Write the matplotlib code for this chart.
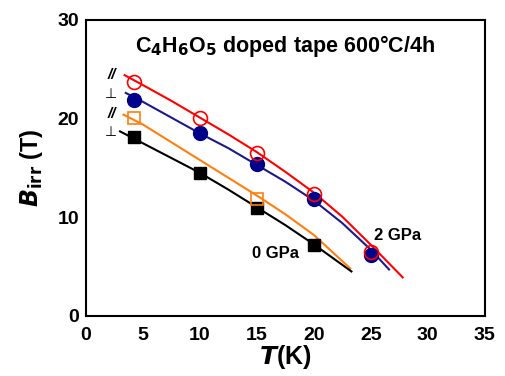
import numpy as np
import matplotlib.pyplot as plt

plt.rcParams['font.family'] = ['Liberation Sans', 'DejaVu Sans']
plt.rcParams['font.weight'] = 'bold'

# measured points (T in K, Birr in T)
T_2gpa_par = [4.2, 10, 15, 20, 25]
B_2gpa_par = [23.7, 20.1, 16.5, 12.4, 6.5]
T_2gpa_perp = [4.2, 10, 15, 20, 25]
B_2gpa_perp = [21.9, 18.5, 15.4, 11.8, 6.2]
T_0gpa_par = [4.2, 15]
B_0gpa_par = [20.1, 11.8]
T_0gpa_perp = [4.2, 10, 15, 20]
B_0gpa_perp = [18.1, 14.5, 10.9, 7.2]

# fit curves
fitT_2gpa_par = [3.4, 5, 7.5, 10, 12.5, 15, 17.5, 20, 22.5, 25, 27.8]
fitB_2gpa_par = [24.4, 23.4, 21.8, 20.1, 18.4, 16.6, 14.6, 12.5, 10.05, 7.2, 3.9]
fitT_2gpa_perp = [3.5, 5, 7.5, 10, 12.5, 15, 17.5, 20, 22.5, 25, 26.6]
fitB_2gpa_perp = [22.6, 21.7, 20.1, 18.5, 17.0, 15.3, 13.6, 11.7, 9.4, 6.7, 4.7]
fitT_0gpa_par = [3.3, 5, 7.5, 10, 12.5, 15, 17.5, 20, 23.2]
fitB_0gpa_par = [20.4, 19.4, 17.6, 15.8, 14.0, 12.2, 10.3, 8.2, 4.8]
fitT_0gpa_perp = [3.0, 5, 7.5, 10, 12.5, 15, 17.5, 20, 23.3]
fitB_0gpa_perp = [18.7, 17.5, 16.0, 14.5, 12.8, 11.0, 9.2, 7.25, 4.5]

fig = plt.figure(figsize=(5.05, 3.76), dpi=100)
ax = fig.add_axes([0.170, 0.160, 0.790, 0.787])

ax.plot(fitT_2gpa_par, fitB_2gpa_par, color='red', lw=1.5)
ax.plot(fitT_2gpa_perp, fitB_2gpa_perp, color='#1a1a8c', lw=1.5)
ax.plot(fitT_0gpa_par, fitB_0gpa_par, color='#ff7f0e', lw=1.5)
ax.plot(fitT_0gpa_perp, fitB_0gpa_perp, color='black', lw=1.5)

ax.plot(T_0gpa_perp, B_0gpa_perp, 's', color='black', ms=8.5)
ax.plot(T_0gpa_par, B_0gpa_par, 's', mfc='none', mec='#ff7f0e', mew=1.2, ms=8.5)
ax.plot(T_2gpa_perp, B_2gpa_perp, 'o', color='#00008b', ms=10)
ax.plot(T_2gpa_par, B_2gpa_par, 'o', mfc='none', mec='red', mew=1.2, ms=10)

# orientation marks
ax.text(2.3, 24.4, '//', fontsize=11, style='italic', fontweight='bold', ha='center', va='center')
ax.text(2.2, 22.5, '\u22a5', fontsize=10, fontweight='normal', ha='center', va='center')
ax.text(2.3, 20.5, '//', fontsize=11, style='italic', fontweight='bold', ha='center', va='center')
ax.text(2.2, 18.6, '\u22a5', fontsize=10, fontweight='normal', ha='center', va='center')

ax.text(25.3, 7.7, '2 GPa', fontsize=12, fontweight='bold')
ax.text(14.6, 5.9, '0 GPa', fontsize=12, fontweight='bold')
ax.text(4.3, 27.4, r'C$_\mathbf{4}$H$_\mathbf{6}$O$_\mathbf{5}$ doped tape 600°C/4h',
        fontsize=15.5, fontweight='bold', va='center')

ax.set_xlim(0, 35)
ax.set_ylim(0, 30)
ax.set_xticks(range(0, 36, 5))
ax.set_yticks([0, 10, 20, 30])
ax.tick_params(axis='x', length=0, labelsize=14, pad=8)
ax.tick_params(axis='y', length=0, labelsize=14, pad=5)
for lab in ax.get_xticklabels() + ax.get_yticklabels():
    lab.set_fontweight('bold')
for s in ax.spines.values():
    s.set_linewidth(1.5)

ax.set_xlabel(r'$\boldsymbol{T}$(K)', fontsize=18, fontweight='bold', labelpad=-1)
ax.set_ylabel(r'$\boldsymbol{B}_{\mathbf{irr}}$ (T)', fontsize=17, fontweight='bold', labelpad=9)

plt.savefig('out.png', dpi=100)
